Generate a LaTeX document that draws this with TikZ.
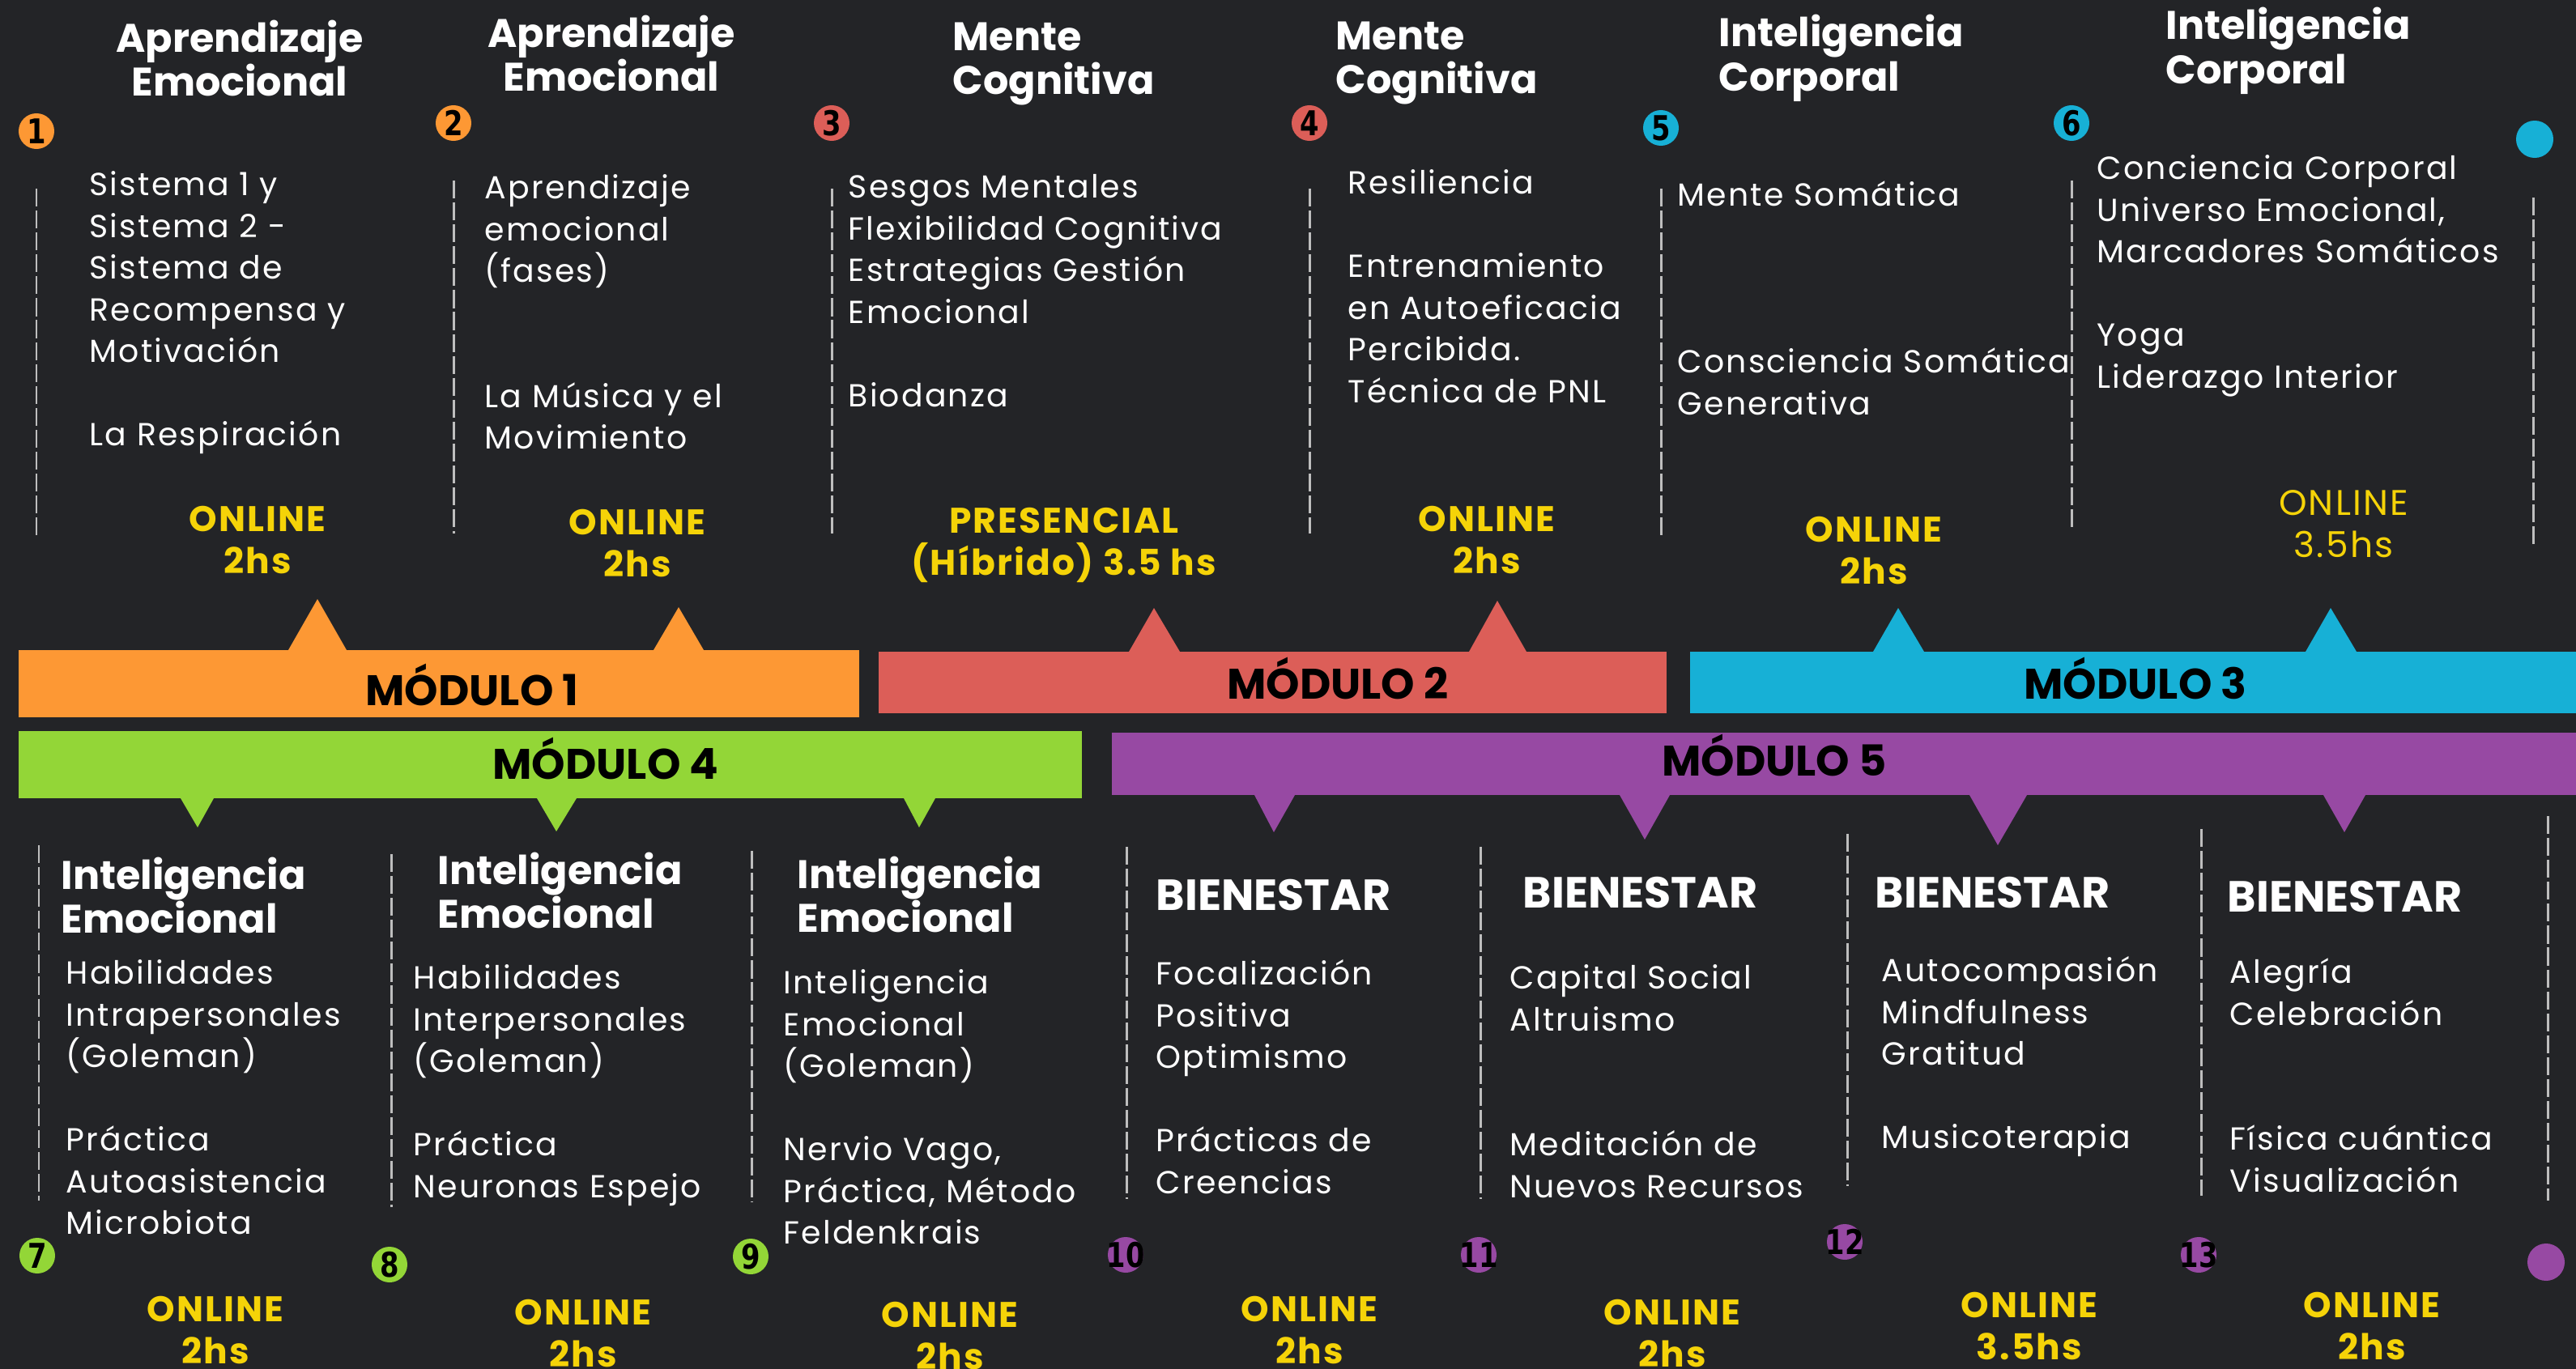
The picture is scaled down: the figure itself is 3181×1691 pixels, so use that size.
\documentclass[tikz,border=0pt]{standalone}
\usepackage{fontspec}
\setmainfont{Poppins}
\newfontfamily\bodyfont[LetterSpace=5.5]{Poppins}
\newfontfamily\hourfont[LetterSpace=5]{Poppins}
\newfontfamily\numfont[FakeStretch=0.8]{DejaVu Sans}
\newcommand{\nr}[1]{\makebox[0pt]{#1}}

\definecolor{bgdark}{RGB}{35,36,39}
\definecolor{modorange}{RGB}{253,152,52}
\definecolor{modred}{RGB}{220,94,88}
\definecolor{modcyan}{RGB}{23,176,214}
\definecolor{modgreen}{RGB}{147,214,55}
\definecolor{modpurple}{RGB}{151,73,163}
\definecolor{hourgold}{RGB}{245,211,8}
\definecolor{sepgrey}{RGB}{190,190,190}

\tikzset{
  coltitle/.style={font=\fontsize{14}{15.6}\selectfont\bfseries, text=white, align=left, inner sep=0pt},
  wellbeing/.style={font=\fontsize{15.3}{15.6}\selectfont\bfseries, text=white, inner sep=0pt},
  topics/.style={font=\bodyfont\fontsize{11.2}{14.65}\selectfont, text=white, align=left, inner sep=0pt, anchor=north west},
  hours/.style={font=\hourfont\fontsize{12.5}{14.8}\selectfont\bfseries, text=hourgold, align=center, inner sep=0pt},
  hourslight/.style={font=\hourfont\fontsize{12.5}{14.8}\selectfont, text=hourgold, align=center, inner sep=0pt},
  modlabel/.style={font=\fontsize{15}{15}\selectfont\bfseries, text=black, inner sep=0pt},
  numdot/.style={circle, minimum size=0.44cm, inner sep=0pt, font=\numfont\fontsize{12}{12}\selectfont\bfseries, text=black},
  enddot/.style={circle, minimum size=0.46cm, inner sep=0pt},
  sepline/.style={draw=sepgrey, line width=0.85pt, dash pattern=on 6.3pt off 1.4pt}
}

\begin{document}
\begin{tikzpicture}[x=0.01cm,y=-0.01cm]
\fill[bgdark] (0,0) rectangle (3181,1691);
\useasboundingbox (0,0) rectangle (3181,1691);

% separators
\foreach \x/\ya/\yb in {45/233/665, 560/223/659, 1027/233/659, 1617/233/659,
    2051/233/663, 2558/223/653, 3128/244/677,
    48/1044/1483, 483/1055/1491, 928/1051/1485, 1391/1046/1481,
    1828/1046/1481, 2281/1030/1465, 2718/1024/1477, 3146/1008/1483}
  \draw[sepline] (\x,\ya) -- (\x,\yb);

% module bars, upper row
\fill[modorange] (23,803) rectangle (1061,886);
\fill[modorange] (356,803) -- (392,740) -- (428,803) -- cycle;
\fill[modorange] (807,803) -- (838,750) -- (869,803) -- cycle;
\node[modlabel] (m1) at (583,846) {MÓDULO 1};

\fill[modred] (1085,805) rectangle (2058,881);
\fill[modred] (1394,805) -- (1425,751) -- (1457,805) -- cycle;
\fill[modred] (1814,805) -- (1849,742) -- (1885,805) -- cycle;
\node[modlabel] (m2) at (1652,838) {MÓDULO 2};

\fill[modcyan] (2087,805) rectangle (3181,881);
\fill[modcyan] (2313,805) -- (2344,751) -- (2376,805) -- cycle;
\fill[modcyan] (2847,805) -- (2878,751) -- (2910,805) -- cycle;
\node[modlabel] (m3) at (2637,838) {MÓDULO 3};

% module bars, lower row
\fill[modgreen] (23,903) rectangle (1336,986);
\fill[modgreen] (223,986) -- (244,1022) -- (264,986) -- cycle;
\fill[modgreen] (663,986) -- (687,1027) -- (712,986) -- cycle;
\fill[modgreen] (1116,986) -- (1135,1022) -- (1155,986) -- cycle;
\node[modlabel] (m4) at (748,937) {MÓDULO 4};

\fill[modpurple] (1373,905) rectangle (3181,982);
\fill[modpurple] (1549,982) -- (1573,1028) -- (1599,982) -- cycle;
\fill[modpurple] (2000,982) -- (2031,1037) -- (2062,982) -- cycle;
\fill[modpurple] (2432,982) -- (2467,1044) -- (2503,982) -- cycle;
\fill[modpurple] (2869,982) -- (2895,1028) -- (2921,982) -- cycle;
\node[modlabel] (m5) at (2191,933) {MÓDULO 5};

% session numbers
\node[numdot, fill=modorange] (n1) at (45,162) {\nr{1}};
\node[numdot, fill=modorange] (n2) at (560,152) {\nr{2}};
\node[numdot, fill=modred] (n3) at (1027,152) {\nr{3}};
\node[numdot, fill=modred] (n4) at (1617,152) {\nr{4}};
\node[numdot, fill=modcyan] (n5) at (2051,158) {\nr{5}};
\node[numdot, fill=modcyan] (n6) at (2558,152) {\nr{6}};
\node[enddot, fill=modcyan] (endtop) at (3130,172) {};
\node[numdot, fill=modgreen] (n7) at (46,1551) {\nr{7}};
\node[numdot, fill=modgreen] (n8) at (481,1562) {\nr{8}};
\node[numdot, fill=modgreen] (n9) at (927,1552) {\nr{9}};
\node[numdot, fill=modpurple] (n10) at (1390,1550) {\nr{10}};
\node[numdot, fill=modpurple] (n11) at (1826,1550) {\nr{11}};
\node[numdot, fill=modpurple] (n12) at (2278,1534) {\nr{12}};
\node[numdot, fill=modpurple] (n13) at (2715,1550) {\nr{13}};
\node[enddot, fill=modpurple] (endbot) at (3144,1559) {};

% upper sessions
\node[coltitle, align=center] (t1) at (296,72) {Aprendizaje\\Emocional};
\node[topics] (b1) at (110,211) {Sistema 1 y\\Sistema 2 -\\Sistema de\\Recompensa y\\Motivación\\~\\La Respiración};
\node[hours] (h1) at (318,667) {ONLINE\\2hs};

\node[coltitle, align=center] (t2) at (755,66) {Aprendizaje\\Emocional};
\node[topics] (b2) at (598,215) {Aprendizaje\\emocional\\(fases)\\~\\~\\La Música y el\\Movimiento};
\node[hours] (h2) at (787,671) {ONLINE\\2hs};

\node[coltitle, anchor=west] (t3) at (1176,79) {Mente\\Cognitiva};
\node[topics] (b3) at (1047,215) {Sesgos Mentales\\Flexibilidad Cognitiva\\Estrategias Gestión\\Emocional\\~\\Biodanza};
\node[hours] (h3) at (1314,673) {PRESENCIAL\\(Híbrido) 3.5 hs};

\node[coltitle, anchor=west] (t4) at (1649,78) {Mente\\Cognitiva};
\node[topics] (b4) at (1664,209) {Resiliencia\\~\\Entrenamiento\\en Autoeficacia\\Percibida.\\Técnica de PNL};
\node[hours] (h4) at (1836,667) {ONLINE\\2hs};

\node[coltitle, anchor=west] (t5) at (2122,72) {Inteligencia\\Corporal};
\node[topics] (b5) at (2071,223) {Mente Somática\\~\\~\\~\\Consciencia Somática\\Generativa};
\node[hours] (h5) at (2314,680) {ONLINE\\2hs};

\node[coltitle, anchor=west] (t6) at (2674,63) {Inteligencia\\Corporal};
\node[topics] (b6) at (2589,191) {Conciencia Corporal\\Universo Emocional,\\Marcadores Somáticos\\~\\Yoga\\Liderazgo Interior};
\node[hourslight] (h6) at (2894,647) {ONLINE\\3.5hs};

% lower sessions
\node[coltitle, anchor=west] (t7) at (75,1106) {Inteligencia\\Emocional};
\node[topics] (b7) at (81,1185) {Habilidades\\Intrapersonales\\(Goleman)\\~\\Práctica\\Autoasistencia\\Microbiota};
\node[hours] (h7) at (266,1643) {ONLINE\\2hs};

\node[coltitle, anchor=west] (t8) at (540,1100) {Inteligencia\\Emocional};
\node[topics] (b8) at (510,1191) {Habilidades\\Interpersonales\\(Goleman)\\~\\Práctica\\Neuronas Espejo};
\node[hours] (h8) at (720,1647) {ONLINE\\2hs};

\node[coltitle, anchor=west] (t9) at (984,1105) {Inteligencia\\Emocional};
\node[topics] (b9) at (967,1197) {Inteligencia\\Emocional\\(Goleman)\\~\\Nervio Vago,\\Práctica, Método\\Feldenkrais};
\node[hours] (h9) at (1173,1650) {ONLINE\\2hs};

\node[wellbeing, anchor=west] (t10) at (1427,1106) {BIENESTAR};
\node[topics] (b10) at (1427,1185) {Focalización\\Positiva\\Optimismo\\~\\Prácticas de\\Creencias};
\node[hours] (h10) at (1617,1643) {ONLINE\\2hs};

\node[wellbeing, anchor=west] (t11) at (1880,1103) {BIENESTAR};
\node[topics] (b11) at (1864,1191) {Capital Social\\Altruismo\\~\\~\\Meditación de\\Nuevos Recursos};
\node[hours] (h11) at (2065,1647) {ONLINE\\2hs};

\node[wellbeing, anchor=west] (t12) at (2315,1103) {BIENESTAR};
\node[topics] (b12) at (2323,1181) {Autocompasión\\Mindfulness\\Gratitud\\~\\Musicoterapia};
\node[hours] (h12) at (2506,1638) {ONLINE\\3.5hs};

\node[wellbeing, anchor=west] (t13) at (2750,1108) {BIENESTAR};
\node[topics] (b13) at (2753,1183) {Alegría\\Celebración\\~\\~\\Física cuántica\\Visualización};
\node[hours] (h13) at (2929,1638) {ONLINE\\2hs};
\end{tikzpicture}
\end{document}
